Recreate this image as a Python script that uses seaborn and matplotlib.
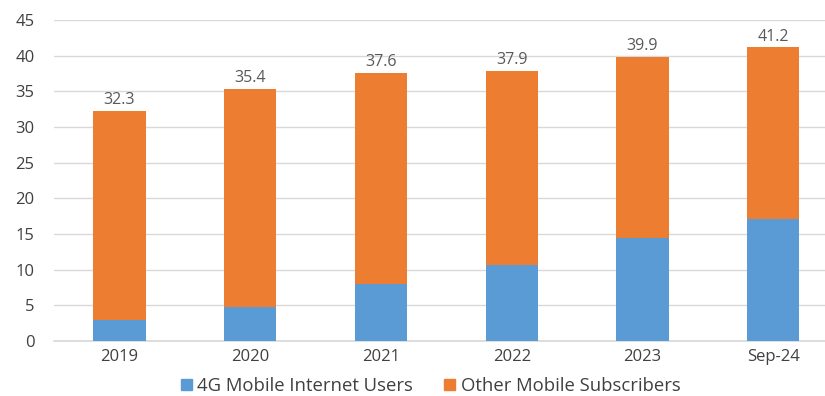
import matplotlib
matplotlib.use("Agg")
import matplotlib.pyplot as plt
import seaborn as sns
import pandas as pd
from matplotlib.patches import Patch

categories = ["2019", "2020", "2021", "2022", "2023", "Sep-24"]
users_4g = [3.0, 4.8, 8.0, 10.6, 14.4, 17.1]
totals = [32.3, 35.4, 37.6, 37.9, 39.9, 41.2]
series_names = ["4G Mobile Internet Users", "Other Mobile Subscribers"]

sns.set_theme(style="white")
plt.rcParams["font.family"] = ["Open Sans", "DejaVu Sans"]

blue = "#5B9BD5"
orange = "#ED7D31"
txt = "#404040"

df = pd.DataFrame({"cat": categories, "g4": users_4g, "total": totals})

fig = plt.figure(figsize=(8.25, 3.96), dpi=100)
ax = fig.add_axes([0.0655, 0.139, 0.94, 0.81])

sns.barplot(data=df, x="cat", y="total", color=orange, width=0.4,
            saturation=1, ax=ax, zorder=2, linewidth=0)
orange_container = ax.containers[0]
sns.barplot(data=df, x="cat", y="g4", color=blue, width=0.4,
            saturation=1, ax=ax, zorder=3, linewidth=0)

ax.bar_label(orange_container, labels=[f"{v:.1f}" for v in totals],
             padding=2, fontsize=11.5, color="#595959")

ax.set_ylim(0, 45)
ax.set_yticks(range(0, 46, 5))
ax.set_xlim(-0.5, 5.43)
ax.yaxis.grid(True, color="#D9D9D9", linewidth=1, zorder=0)
ax.set_axisbelow(True)
for s in ["left", "right", "top"]:
    ax.spines[s].set_visible(False)
ax.spines["bottom"].set_color("#D9D9D9")
ax.set_xlabel("")
ax.set_ylabel("")
ax.tick_params(axis="both", labelsize=12, colors=txt, length=0, pad=6)
ax.tick_params(axis="y", pad=14)

handles = [Patch(color=blue), Patch(color=orange)]
fig.legend(handles, series_names, loc="center", bbox_to_anchor=(0.522, 0.025),
           ncol=2, frameon=False, fontsize=13.3, handlelength=0.6,
           handleheight=0.6, handletextpad=0.3, columnspacing=1.7,
           labelcolor=txt)

fig.savefig("out.png", dpi=100)
